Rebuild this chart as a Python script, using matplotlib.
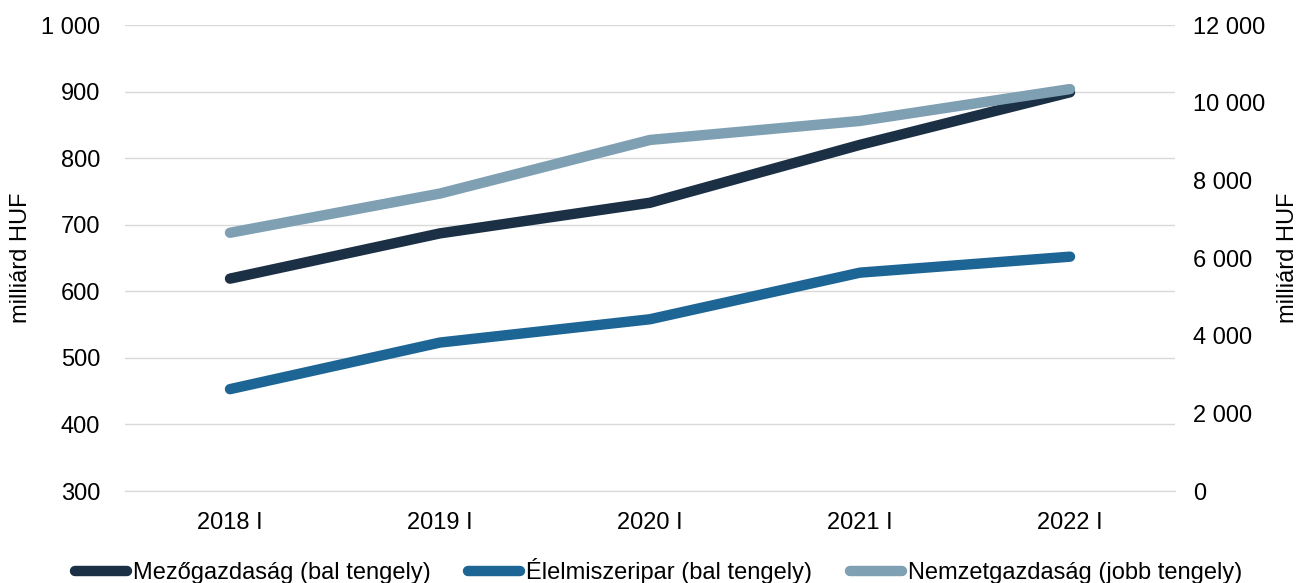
import matplotlib
matplotlib.use("Agg")
import matplotlib.pyplot as plt
from matplotlib.ticker import FuncFormatter

plt.rcParams['font.family'] = ['Liberation Sans', 'DejaVu Sans']

categories = ["2018 I", "2019 I", "2020 I", "2021 I", "2022 I"]
mezogazdasag = [619, 687, 733, 820, 899]
elelmiszeripar = [453, 523, 558, 628, 652]
nemzetgazdasag = [6650, 7660, 9040, 9530, 10350]

c_dark = "#1B3045"
c_blue = "#1D6595"
c_light = "#7FA0B3"

FS = 17

fig = plt.figure(figsize=(12.99, 5.83), dpi=100)
ax = fig.add_axes([125/1299, 1-491/583, 1050/1299, 466/583])
ax2 = ax.twinx()

x = list(range(len(categories)))
lw = 7.5
l1, = ax.plot(x, mezogazdasag, color=c_dark, lw=lw, solid_capstyle='round', solid_joinstyle='round', zorder=3)
l2, = ax.plot(x, elelmiszeripar, color=c_blue, lw=lw, solid_capstyle='round', solid_joinstyle='round', zorder=3)
l3, = ax2.plot(x, nemzetgazdasag, color=c_light, lw=lw, solid_capstyle='round', solid_joinstyle='round', zorder=3)

ax.set_xlim(-0.5, 4.5)
ax.set_ylim(300, 1000)
ax2.set_ylim(0, 12000)
ax.set_yticks(range(300, 1001, 100))
ax2.set_yticks(range(0, 12001, 2000))
ax.set_xticks(x)
ax.set_xticklabels(categories)

fmt = FuncFormatter(lambda v, p: f"{int(v):,}".replace(",", " "))
ax.yaxis.set_major_formatter(fmt)
ax2.yaxis.set_major_formatter(fmt)

ax.grid(axis='y', color='#D9D9D9', lw=1)
ax.set_axisbelow(True)
for a in (ax, ax2):
    for s in ['top', 'left', 'right']:
        a.spines[s].set_visible(False)
    a.spines['bottom'].set_color('#D9D9D9')
    a.tick_params(length=0, labelsize=FS, colors='black')
ax.tick_params(axis='y', pad=18)
ax2.tick_params(axis='y', pad=13)
ax.tick_params(axis='x', pad=15)

ax.set_ylabel("milliárd HUF", fontsize=FS)
ax.yaxis.set_label_coords(-0.0886, 0.5)
ax2.set_ylabel("milliárd HUF", fontsize=FS)
ax2.yaxis.set_label_coords(1.0975, 0.5)

fig.legend([l1, l2, l3],
           ["Mezőgazdaság (bal tengely)", "Élelmiszeripar (bal tengely)", "Nemzetgazdaság (jobb tengely)"],
           loc='center', bbox_to_anchor=(0.5 + 9/1299, 1-571/583), ncol=3, frameon=False,
           fontsize=FS, handlelength=2.2, handletextpad=0.25, columnspacing=1.6,
           borderaxespad=0, borderpad=0)

fig.savefig("out.png", dpi=100)
